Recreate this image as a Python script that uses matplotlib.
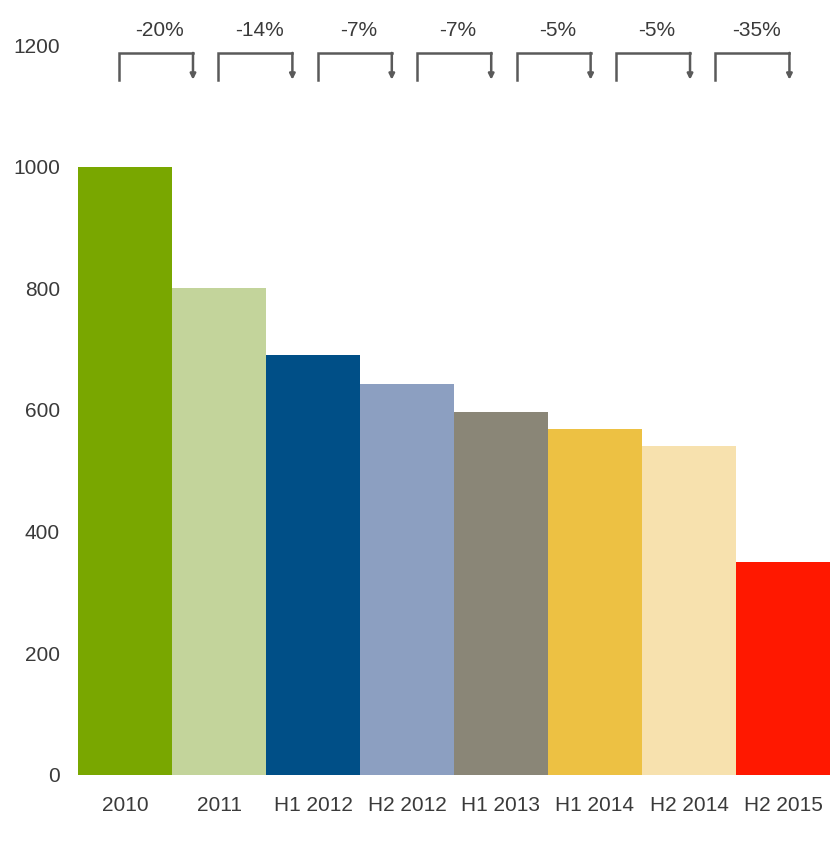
import matplotlib.pyplot as plt
from matplotlib import font_manager
from matplotlib.transforms import blended_transform_factory

periods = ['2010', '2011', 'H1 2012', 'H2 2012', 'H1 2013', 'H1 2014', 'H2 2014', 'H2 2015']
values = [1000, 801, 690, 642, 597, 568, 540, 350]
changes = ['-20%', '-14%', '-7%', '-7%', '-5%', '-5%', '-35%']
colors = ['#79a700', '#c3d49b', '#004f87', '#8c9fc1', '#8a8677',
          '#edc143', '#f7e1ae', '#ff1800']

names = {f.name for f in font_manager.fontManager.ttflist}
if 'Liberation Sans Narrow' in names:
    plt.rcParams['font.family'] = ['Liberation Sans Narrow', 'DejaVu Sans']
    fs = 17
else:
    plt.rcParams['font.family'] = ['Liberation Sans', 'DejaVu Sans']
    fs = 15

fig = plt.figure(figsize=(8.37, 8.43), dpi=100)
ax = fig.add_axes([0.0932, 0.0807, 0.8984, 0.8659])

x = range(len(periods))
ax.bar(x, values, width=1.0, color=colors, linewidth=0)
ax.set_xlim(-0.5, len(periods) - 0.5)
ax.set_ylim(0, 1200)
ax.set_yticks(range(0, 1201, 200))
ax.set_xticks(list(x))
ax.set_xticklabels(periods)
ax.tick_params(length=0, labelsize=fs, colors='#3a3a3a')
ax.tick_params(axis='y', pad=13)
ax.tick_params(axis='x', pad=15)
for s in ax.spines.values():
    s.set_visible(False)

# change brackets above the bars
tr = blended_transform_factory(ax.transAxes, ax.transData)
start, step, width = 0.0545, 0.1322, 0.0984
for i, lab in enumerate(changes):
    x0 = start + i * step
    x1 = x0 + width
    ax.plot([x0, x0, x1], [1143, 1187, 1187], color='#5a5a5a', lw=1.8,
            transform=tr, clip_on=False, solid_joinstyle='miter')
    ax.annotate('', xy=(x1, 1143), xytext=(x1, 1187), xycoords=tr, textcoords=tr,
                arrowprops=dict(arrowstyle='-|>', color='#5a5a5a', lw=1.8,
                                mutation_scale=8, shrinkA=0, shrinkB=0),
                annotation_clip=False)
    ax.text(x0 + width / 2 + 0.005, 1224, lab, transform=tr, ha='center', va='center',
            fontsize=fs, color='#3a3a3a')

fig.savefig('out.png', dpi=100)
